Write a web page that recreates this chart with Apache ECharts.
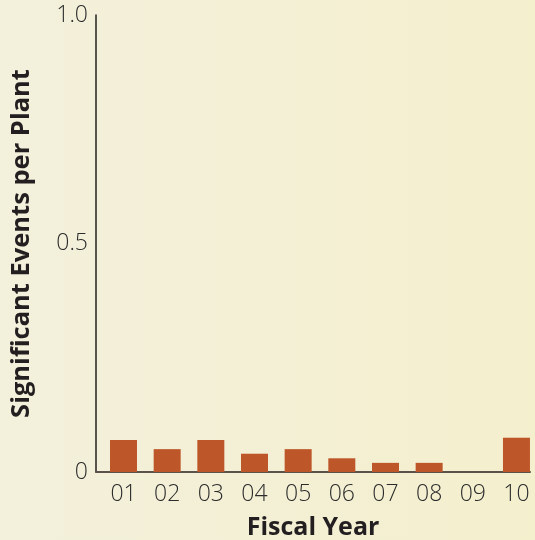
<!DOCTYPE html>
<html>
<head>
<meta charset="utf-8">
<script src="https://cdn.jsdelivr.net/npm/echarts@6/dist/echarts.min.js"></script>
<style>
  html, body { margin: 0; padding: 0; }
  #chart { width: 535px; height: 540px; }
</style>
</head>
<body>
<div id="chart"></div>
<script>
// Fiscal years and significant events per plant
const years = ['01', '02', '03', '04', '05', '06', '07', '08', '09', '10'];
const events = [0.07, 0.05, 0.07, 0.04, 0.05, 0.03, 0.02, 0.02, 0, 0.075];
const yTicks = [0, 0.5, 1.0];
const yTickLabels = ['0', '0.5', '1.0'];

const positions = years.map((_, i) => i + 1);
const barData = positions.map((p, i) => [p, events[i]]);

const chart = echarts.init(document.getElementById('chart'));
chart.setOption({
  animation: false,
  backgroundColor: {
    type: 'linear', x: 0, y: 0, x2: 1, y2: 0,
    colorStops: [
      { offset: 0, color: '#f3f0dc' },
      { offset: 1, color: '#f4efcd' }
    ]
  },
  grid: { left: 96, right: 5, top: 15, bottom: 68, outerBoundsMode: 'none', containLabel: false },
  xAxis: {
    type: 'value',
    min: 0.37,
    max: 10.31,
    splitLine: { show: false },
    axisTick: { show: false },
    axisLine: { show: true, lineStyle: { color: '#5b534b', width: 2 } },
    axisLabel: {
      customValues: positions,
      formatter: v => years[Math.round(v) - 1],
      color: '#2b2b2b',
      fontFamily: 'Open Sans',
      fontWeight: 300,
      fontSize: 23,
      margin: 11
    },
    name: 'Fiscal Year',
    nameLocation: 'middle',
    nameGap: 43,
    nameTextStyle: {
      color: '#231f20',
      fontFamily: 'Open Sans',
      fontWeight: 'bold',
      fontSize: 25
    }
  },
  yAxis: {
    type: 'value',
    min: 0,
    max: 1,
    interval: 0.5,
    splitLine: { show: false },
    axisTick: { show: false },
    axisLine: { show: true, lineStyle: { color: '#231f20', width: 1.5 } },
    axisLabel: {
      formatter: v => yTickLabels[yTicks.indexOf(v)],
      color: '#2b2b2b',
      fontFamily: 'Open Sans',
      fontWeight: 300,
      fontSize: 23,
      margin: 8
    },
    name: 'Significant Events per Plant',
    nameLocation: 'middle',
    nameGap: 61,
    nameRotate: 90,
    nameTextStyle: {
      color: '#231f20',
      fontFamily: 'Open Sans',
      fontWeight: 'bold',
      fontSize: 25.5
    }
  },
  series: [{
    type: 'bar',
    data: barData,
    barWidth: 27,
    itemStyle: { color: '#bd5628' }
  }]
});
</script>
</body>
</html>
